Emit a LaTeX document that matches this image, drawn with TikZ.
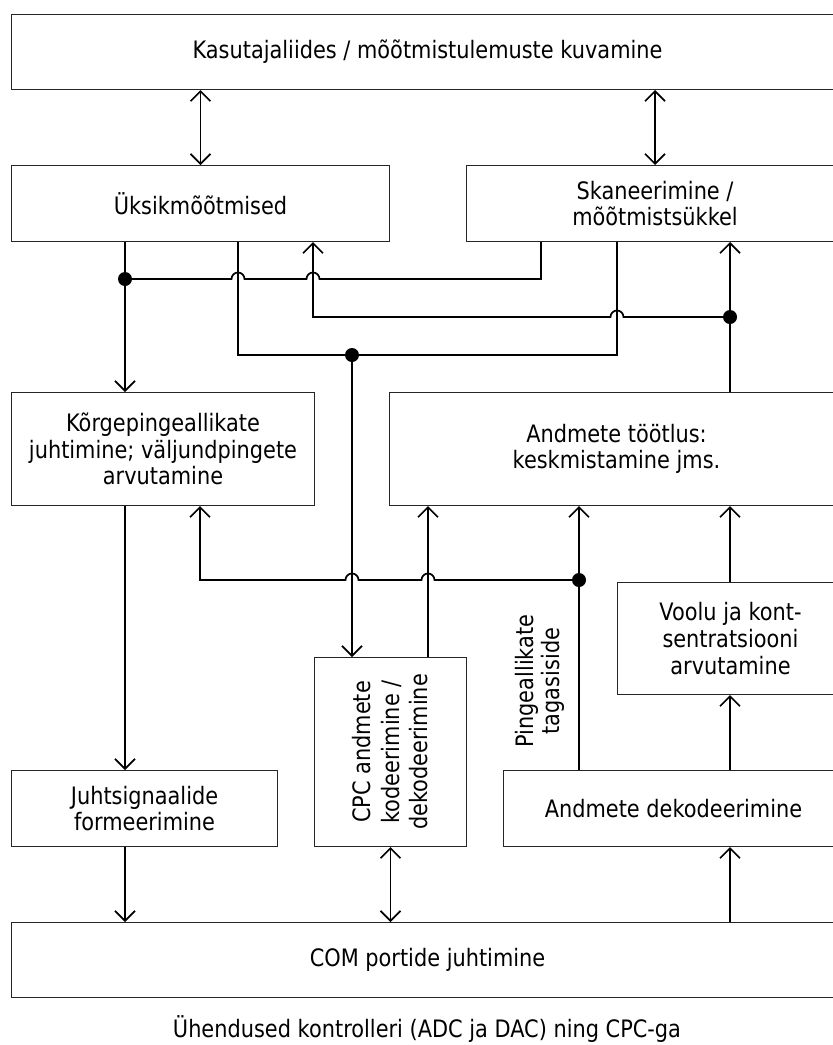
\documentclass[tikz,border=0pt]{standalone}
\usepackage{fontspec}
\setmainfont{DejaVu Sans}[FakeStretch=0.87]
\usetikzlibrary{arrows.meta,calc}

\tikzset{
  txt/.style={align=center, inner sep=0pt, font=\fontsize{24}{26.7}\selectfont},
  box/.style={txt, draw=black!85, line width=1pt, fill=white, anchor=north west},
  conn/.style={line width=1.7pt, black},
  dot/.style={circle, fill=black, inner sep=0pt, minimum size=14pt},
  >={Straight Barb[length=10pt,width=20pt]}
}

\begin{document}
\begin{tikzpicture}[x=1pt,y=-1pt]
\useasboundingbox (0,0) rectangle (833,1045);
\clip (0,0) rectangle (833,1045);

% blocks
\node[box, minimum width=832pt, minimum height=75pt]  (top)  at (11,14)   {Kasutajaliides / mõõtmistulemuste kuvamine};
\node[box, minimum width=378pt, minimum height=76pt]  (uks)  at (11,165)  {Üksikmõõtmised};
\node[box, minimum width=377pt, minimum height=76pt]  (skan) at (466,165) {Skaneerimine /\\mõõtmistsükkel};
\node[box, minimum width=303pt, minimum height=113pt] (korg) at (11,392)  {Kõrgepingeallikate\\juhtimine; väljundpingete\\arvutamine};
\node[box, minimum width=454pt, minimum height=113pt] (toot) at (389,392) {Andmete töötlus:\\keskmistamine jms.};
\node[box, minimum width=226pt, minimum height=112pt] (vool) at (617,582) {Voolu ja kont-\\sentratsiooni\\arvutamine};
\node[box, minimum width=152pt, minimum height=189pt] (cpc)  at (314,657) {};
\node[txt, rotate=90, font=\fontsize{24}{28.5}\selectfont] (cpct) at (cpc.center) {CPC andmete\\kodeerimine /\\dekodeerimine};
\node[box, minimum width=266pt, minimum height=76pt]  (juht) at (11,770)  {Juhtsignaalide\\formeerimine};
\node[box, minimum width=340pt, minimum height=76pt]  (dek)  at (503,770) {Andmete dekodeerimine};
\node[box, minimum width=832pt, minimum height=75pt]  (com)  at (11,922)  {COM portide juhtimine};

% caption
\node[txt] (cap) at (427,1029) {Ühendused kontrolleri (ADC ja DAC) ning CPC-ga};

% wiring columns and rows
\coordinate (cA) at (125,0);
\coordinate (cB) at (200,0);
\coordinate (cC) at (238,0);
\coordinate (cD) at (313,0);
\coordinate (cE) at (352,0);
\coordinate (cG) at (428,0);
\coordinate (cH) at (541,0);
\coordinate (cI) at (579,0);
\coordinate (cJ) at (617,0);
\coordinate (cK) at (730,0);
\coordinate (r1) at (0,279);
\coordinate (r2) at (0,317);
\coordinate (r3) at (0,355);
\coordinate (r4) at (0,580);

% user interface links
\draw[conn,<->] (top.south -| uks.north) -- (uks.north);
\draw[conn,<->] (top.south -| skan.north) -- (skan.north);

% single measurement / scanning bus
\draw[conn,->] (uks.south -| cA) -- (korg.north -| cA);
\draw[conn] (cA|-r1) -- ($(cC|-r1)+(-6.5,0)$) arc[start angle=180,end angle=0,radius=6.5pt]
  -- ($(cD|-r1)+(-6.5,0)$) arc[start angle=180,end angle=0,radius=6.5pt]
  -- (cH|-r1) -- (skan.south -| cH);
\draw[conn] (uks.south -| cC) -- (cC|-r3) -- (cJ|-r3) -- (skan.south -| cJ);
\draw[conn,->] (cK|-r2) -- ($(cJ|-r2)+(6.5,0)$) arc[start angle=0,end angle=180,radius=6.5pt]
  -- (cD|-r2) -- (uks.south -| cD);
\draw[conn,->] (toot.north -| cK) -- (skan.south -| cK);
\draw[conn,->] (cE|-r3) -- (cpc.north -| cE);

% feedback bus
\draw[conn,->] (cI|-r4) -- ($(cG|-r4)+(6.5,0)$) arc[start angle=0,end angle=180,radius=6.5pt]
  -- ($(cE|-r4)+(6.5,0)$) arc[start angle=0,end angle=180,radius=6.5pt]
  -- (cB|-r4) -- (korg.south -| cB);
\draw[conn,->] (dek.north -| cI) -- (toot.south -| cI);
\draw[conn,->] (cpc.north -| cG) -- (toot.south -| cG);
\draw[conn,->] (vool.north -| cK) -- (toot.south -| cK);
\draw[conn,->] (dek.north -| cK) -- (vool.south -| cK);
\node[txt, rotate=90] (fb) at (540,681) {Pingeallikate\\tagasiside};

% lower links
\draw[conn,->] (korg.south -| cA) -- (juht.north -| cA);
\draw[conn,->] (juht.south -| cA) -- (com.north -| cA);
\draw[conn,<->] (cpc.south) -- (com.north -| cpc.south);
\draw[conn,->] (com.north -| cK) -- (dek.south -| cK);

% junctions
\node[dot] (d1) at (cA|-r1) {};
\node[dot] (d2) at (cK|-r2) {};
\node[dot] (d3) at (cE|-r3) {};
\node[dot] (d4) at (cI|-r4) {};
\end{tikzpicture}
\end{document}
